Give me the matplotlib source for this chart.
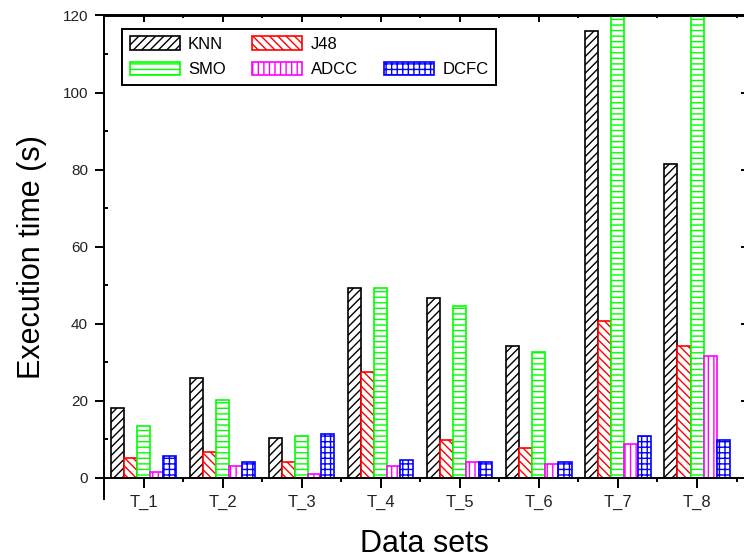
import numpy as np
import matplotlib
matplotlib.use("Agg")
import matplotlib.pyplot as plt
from matplotlib.patches import Rectangle
from matplotlib.ticker import MultipleLocator, FixedLocator

plt.rcParams['font.family'] = ['Liberation Sans', 'DejaVu Sans']
plt.rcParams['hatch.linewidth'] = 1.0

datasets = ["T_1", "T_2", "T_3", "T_4", "T_5", "T_6", "T_7", "T_8"]
knn = [18.1, 25.9, 10.4, 49.3, 46.6, 34.2, 116.1, 81.4]
j48 = [5.1, 6.7, 4.1, 27.5, 9.9, 7.7, 40.8, 34.2]
smo = [13.5, 20.2, 10.8, 49.3, 44.6, 32.7, 140.0, 135.0]   # last two run off the top
adcc = [1.5, 3.0, 1.0, 3.0, 4.1, 3.6, 8.7, 31.6]
dcfc = [5.7, 4.1, 11.4, 4.7, 4.1, 4.1, 10.9, 9.9]

series = [("KNN", knn, "black", "////"),
          ("J48", j48, "#ff0000", "\\\\\\\\"),
          ("SMO", smo, "#00ff00", "---"),
          ("ADCC", adcc, "#ff00ff", "|||"),
          ("DCFC", dcfc, "#0000ff", "+++")]

fig = plt.figure(figsize=(7.44, 5.58), dpi=100)
ax = fig.add_axes([104 / 744, 59 / 558, 641 / 744, 483.5 / 558])

x = np.arange(1, len(datasets) + 1)
w = 0.165
bars = {}
for i, (name, vals, col, hatch) in enumerate(series):
    bars[name] = ax.bar(x + (i - 2) * w, vals, w, facecolor="white", edgecolor=col,
                        hatch=hatch, linewidth=1.2, label=name, zorder=2)

ax.set_xlim(0.5, 0.5 + 641 / 79.07)
ax.set_ylim(-5.45, 120)
ax.spines['bottom'].set_position(('data', 0))
for s in ax.spines.values():
    s.set_linewidth(1.4)

ax.set_xticks(x)
ax.set_xticklabels(datasets)
ax.xaxis.set_minor_locator(FixedLocator(x + 0.5))
ax.yaxis.set_major_locator(MultipleLocator(20))
ax.yaxis.set_minor_locator(MultipleLocator(10))
ax.tick_params(axis='x', which='major', direction='out', length=7, width=1.4,
               labelsize=12, pad=5, colors='black', labelcolor='#222222')
ax.tick_params(axis='x', which='minor', direction='out', length=3, width=1.4)
ax.tick_params(axis='y', which='major', direction='out', length=6.5, width=1.4,
               labelsize=11, pad=5, labelcolor='#222222')
ax.tick_params(axis='y', which='minor', direction='in', length=3, width=1.4)

top = ax.secondary_xaxis('top')
top.set_xticks(x)
top.xaxis.set_minor_locator(FixedLocator(x + 0.5))
top.tick_params(which='major', direction='in', length=5, width=1.4, labeltop=False)
top.tick_params(which='minor', direction='in', length=2, width=1.4)
top.spines['top'].set_linewidth(1.4)

right = ax.secondary_yaxis('right')
right.yaxis.set_major_locator(MultipleLocator(20))
right.tick_params(direction='in', length=3, width=1.4, labelright=False)

ax.set_xlabel("Data sets", fontsize=22, labelpad=14)
ax.set_ylabel("Execution time (s)", fontsize=22, labelpad=11)

blank = Rectangle((0, 0), 1, 1, facecolor='none', edgecolor='none')
handles = [bars["KNN"], bars["SMO"], bars["J48"], bars["ADCC"], blank, bars["DCFC"]]
labels = ["KNN", "SMO", "J48", "ADCC", "", "DCFC"]
leg = ax.legend(handles, labels, ncol=3, loc='upper left',
                bbox_to_anchor=(122 / 744, 1 - 29 / 558), bbox_transform=fig.transFigure,
                fontsize=12, handlelength=3.0, handleheight=0.85, handletextpad=0.5,
                columnspacing=1.6, labelspacing=0.6, borderpad=0.45, borderaxespad=0,
                fancybox=False, framealpha=1, edgecolor='black')
leg.get_frame().set_linewidth(1.4)

fig.savefig("out.png", dpi=100)
